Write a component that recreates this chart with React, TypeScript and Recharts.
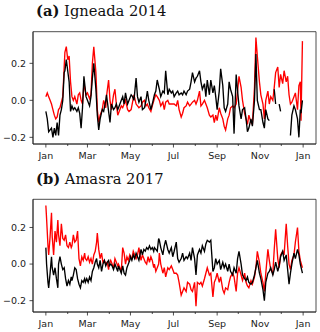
import React from "react";
import { LineChart, Line, XAxis, YAxis, ReferenceArea } from "recharts";

// panel (a) Igneada 2014 - day of year, red and black series
const daysA = [
  0, 2, 4, 6, 8, 10, 12, 14, 16, 18,
  20, 22, 24, 26, 27, 29, 31, 33, 35, 37,
  39, 41, 44, 46, 48, 50, 52, 54, 57, 59,
  62, 64, 66, 68, 71, 73, 75, 77, 80, 82,
  85, 86, 89, 91, 93, 96, 98, 100, 102, 104,
  107, 109, 111, 113, 116, 118, 121, 123, 125, 128,
  130, 132, 135, 137, 140, 142, 144, 146, 149, 151,
  154, 156, 158, 161, 163, 166, 168, 170, 173, 175,
  178, 180, 182, 185, 187, 189, 192, 194, 196, 199,
  201, 204, 206, 208, 211, 213, 215, 218, 220, 222,
  225, 227, 229, 232, 234, 237, 239, 241, 243, 246,
  248, 251, 253, 255, 258, 260, 262, 265, 267, 270,
  272, 274, 277, 279, 282, 284, 286, 288, 291, 293,
  296, 298, 300, 303, 305, 308, 310, 312, 315, 317,
  319, 322, 324, 326, 329, 331, 333, 336, 338, 341,
  343, 345, 347, 349, 352, 354, 357, 359, 361, 362,
  364,
];
const redA = [
  0.02, 0.04, 0.02, 0.0, -0.02, -0.05, -0.08, -0.1, -0.09, -0.05,
  -0.04, -0.01, 0.02, 0.18, 0.26, 0.29, 0.22, 0.24, 0.1, 0.02,
  0.0, 0.02, -0.02, 0.03, 0.04, 0.0, -0.02, 0.09, 0.03, 0.04,
  0.01, 0.03, 0.2, 0.29, 0.15, -0.05, -0.12, -0.08, -0.05, 0.0,
  -0.04, 0.02, 0.11, 0.0, -0.05, 0.03, 0.06, -0.02, -0.08, -0.06,
  -0.03, -0.04, -0.02, 0.0, -0.05, -0.06, -0.05, -0.01, 0.03, -0.02,
  -0.03, -0.04, -0.03, -0.01, 0.0, -0.03, -0.02, -0.04, -0.06, -0.03,
  0.01, 0.03, 0.02, 0.0, -0.03, -0.01, -0.05, -0.01, 0.0, -0.02,
  -0.02, -0.02, -0.02, -0.03, 0.0, -0.05, -0.09, -0.07, -0.04, -0.03,
  -0.01, -0.03, -0.02, -0.01, 0.0, -0.02, 0.0, 0.05, -0.03, -0.02,
  0.0, -0.02, -0.04, -0.08, -0.09, -0.08, -0.12, -0.08, -0.11, -0.04,
  -0.07, -0.1, -0.14, -0.16, -0.1, -0.08, -0.04, -0.03, -0.04, -0.02,
  0.05, 0.13, 0.07, 0.0, -0.07, -0.1, -0.13, -0.08, -0.12, -0.13,
  0.07, 0.34, 0.24, 0.1, 0.03, -0.02, -0.1, 0.0, 0.05, -0.02,
  0.02, 0.0, 0.07, 0.15, 0.18, 0.07, 0.14, 0.09, 0.16, 0.1,
  0.13, 0.03, -0.02, -0.01, 0.02, 0.04, -0.05, 0.08, 0.1, -0.11,
  0.32,
];
const blackA = [
  -0.06, -0.1, -0.17, -0.16, -0.15, -0.2, -0.15, -0.19, -0.12, -0.19,
  -0.08, -0.05, 0.0, 0.15, 0.16, 0.22, 0.16, 0.1, -0.06, -0.03,
  -0.05, -0.04, -0.06, -0.04, -0.07, -0.15, -0.04, 0.13, 0.02, 0.0,
  -0.03, 0.02, 0.12, 0.2, 0.06, -0.08, -0.16, -0.1, -0.05, -0.06,
  0.0, 0.03, -0.06, -0.12, -0.02, -0.05, -0.04, -0.02, -0.05, -0.03,
  0.0, 0.02, -0.02, 0.04, -0.02, 0.0, 0.03, 0.02, 0.0, 0.12,
  0.02, -0.01, 0.02, -0.05, -0.04, 0.0, 0.05, 0.0, -0.05, -0.02,
  0.03, 0.05, 0.11, 0.06, 0.02, 0.05, 0.04, 0.16, 0.03, 0.06,
  0.04, 0.05, 0.02, 0.04, 0.05, 0.03, 0.04, 0.03, 0.05, 0.03,
  0.05, 0.06, 0.1, 0.15, 0.1, 0.12, 0.13, 0.16, 0.1, 0.06,
  0.09, 0.02, 0.11, 0.03, 0.11, 0.04, 0.08, 0.02, -0.05, 0.05,
  0.17, 0.08, -0.04, -0.06, -0.02, 0.1, 0.06, 0.02, -0.18, 0.14,
  0.05, -0.03, -0.1, -0.05, -0.04, -0.1, -0.17, -0.15, -0.1, -0.14,
  0.0, 0.25, 0.0, -0.05, -0.05, -0.12, -0.15, -0.05, -0.1, -0.11,
  null, null, 0.06, -0.02, null, -0.02, -0.06, null, null, null,
  null, null, -0.19, -0.08, -0.03, -0.05, -0.1, -0.2, -0.05, -0.07,
  0.0,
];

// panel (b) Amasra 2017
const daysB = [
  0, 1, 3, 4, 6, 8, 9, 11, 13, 15,
  17, 18, 20, 22, 24, 26, 28, 30, 32, 34,
  36, 37, 39, 41, 43, 45, 47, 49, 51, 53,
  55, 56, 58, 60, 62, 64, 66, 68, 70, 72,
  73, 75, 77, 79, 81, 83, 85, 87, 89, 90,
  92, 94, 96, 98, 100, 102, 103, 105, 107, 109,
  111, 113, 115, 117, 119, 120, 122, 124, 126, 128,
  130, 132, 134, 135, 137, 139, 141, 143, 145, 147,
  149, 151, 153, 154, 156, 158, 160,
  161, 163, 166, 168, 170, 173, 175, 178, 180, 182,
  185, 187, 189, 192, 194, 196, 199, 201, 204, 206,
  208, 211, 213, 215, 218, 220, 222, 225, 227, 229,
  232, 234, 237, 239, 241, 243, 246, 248, 251, 253,
  255, 258, 260, 262, 265, 267, 270, 272, 274, 277,
  279, 282, 284, 286, 288, 291, 293, 296, 298, 300,
  303, 305, 308, 310, 312, 315, 317, 319, 322, 324,
  326, 329, 331, 333, 336, 338, 341, 343, 345, 347,
  349, 352, 354, 357, 359, 361, 364,
];
const redB = [
  0.32, 0.25, 0.1, 0.05, 0.15, 0.28, 0.15, 0.05, 0.18, 0.12,
  0.24, 0.16, 0.1, 0.22, 0.14, 0.13, 0.16, 0.1, 0.09, 0.12,
  0.09, 0.1, 0.16, 0.12, 0.13, 0.18, 0.03, -0.01, 0.04, 0.02,
  0.06, 0.03, 0.02, 0.04, 0.01, 0.03, 0.0, 0.05, 0.07, 0.12,
  0.17, 0.08, 0.03, 0.06, 0.01, 0.02, 0.0, 0.01, -0.03, 0.0,
  0.02, 0.0, -0.02, 0.03, 0.01, -0.01, 0.0, -0.02, -0.04, 0.09,
  0.06, 0.0, 0.04, 0.02, 0.05, 0.04, 0.03, 0.07, 0.05, 0.03,
  0.05, 0.09, 0.04, 0.02, 0.05, 0.03, 0.01, 0.0, 0.04, 0.01,
  0.04, 0.02, -0.02, 0.0, -0.04, -0.02, 0.0,
  0.06, 0.0, -0.05, -0.02, -0.07, -0.02, -0.03, -0.01, -0.03, -0.05,
  -0.05, -0.06, -0.1, -0.17, -0.15, -0.13, -0.15, -0.1, -0.11, -0.14,
  -0.15, -0.1, -0.23, -0.1, -0.11, -0.1, -0.12, -0.08, -0.05, -0.02,
  -0.06, -0.05, -0.18, -0.1, -0.08, -0.05, -0.1, -0.07, -0.14, -0.16,
  -0.13, -0.14, -0.1, -0.07, -0.05, -0.07, -0.15, -0.05, -0.02, -0.06,
  -0.09, -0.05, -0.1, -0.12, -0.13, -0.09, -0.11, -0.07, -0.02, 0.07,
  0.01, -0.05, -0.1, -0.15, -0.05, 0.08, 0.02, -0.03, -0.05, 0.08,
  0.19, 0.03, -0.02, 0.05, 0.07, 0.05, 0.22, 0.1, 0.0, -0.03,
  0.02, 0.05, 0.12, 0.2, 0.07, 0.02, -0.02,
];
const blackB = [
  0.09, 0.0, -0.1, -0.13, -0.05, 0.04, -0.02, -0.06, -0.02, -0.08,
  -0.13, 0.0, 0.04, 0.0, -0.03, -0.02, -0.08, -0.12, -0.09, -0.11,
  -0.07, -0.09, -0.06, -0.02, -0.03, -0.08, -0.11, -0.13, -0.09, -0.1,
  -0.08, -0.1, -0.08, -0.1, -0.07, -0.09, -0.04, -0.02, 0.01, 0.03,
  0.0, -0.02, 0.02, -0.04, 0.0, 0.02, -0.01, 0.01, 0.02, -0.01,
  0.0, -0.01, -0.03, 0.0, -0.02, -0.04, -0.01, -0.03, -0.05, -0.01,
  -0.05, -0.06, -0.02, 0.0, 0.02, 0.04, 0.02, 0.05, 0.03, 0.06,
  0.04, 0.02, 0.06, 0.08, 0.05, 0.08, 0.07, 0.09, 0.08, 0.1,
  0.08, 0.09, 0.07, 0.09, 0.08, 0.07, 0.14,
  0.13, 0.09, 0.05, 0.1, 0.13, 0.08, 0.06, 0.09, 0.04, 0.07,
  0.12, 0.03, 0.01, 0.03, 0.06, 0.02, 0.04, 0.03, 0.06, 0.02,
  0.09, 0.03, -0.06, 0.05, 0.08, 0.06, 0.1, 0.07, 0.11, 0.13,
  0.12, 0.13, -0.04, -0.02, 0.03, 0.0, 0.02, -0.03, 0.01, -0.02,
  0.0, -0.04, 0.0, -0.04, -0.06, -0.02, -0.05, 0.03, 0.07, 0.0,
  -0.06, -0.08, -0.09, -0.07, -0.1, -0.11, -0.1, -0.06, -0.02, 0.02,
  -0.05, -0.08, -0.14, -0.2, -0.1, -0.05, -0.04, -0.02, -0.06, -0.03,
  0.01, -0.04, -0.01, 0.04, 0.07, 0.02, 0.05, -0.03, -0.11, -0.05,
  0.0, 0.06, 0.03, 0.08, 0.05, 0.0, -0.05,
];

const monthTicks = [0, 31, 59, 90, 120, 151, 181, 212, 243, 273, 304, 334, 365];
const monthLabels = ["Jan", "", "Mar", "", "May", "", "Jul", "", "Sep", "", "Nov", "", "Jan"];
const yTicks = [-0.2, 0, 0.2];

const X_DOMAIN: [number, number] = [-18.25, 383.25];
const INK = "#222";
const TICK_FONT = { fontFamily: "DejaVu Sans", fontSize: 9.5, fill: INK };

const MonthTick = ({ x, y, payload }: any) => {
  const idx = monthTicks.indexOf(payload.value);
  const label = monthLabels[idx] || "";
  const len = label ? 3.5 : 2;
  return (
    <g>
      <line x1={x} x2={x} y1={y} y2={y + len} stroke={INK} strokeWidth={0.8} />
      {label && (
        <text x={x} y={y + 15} textAnchor="middle" {...TICK_FONT}>
          {label}
        </text>
      )}
    </g>
  );
};

const fmtY = (v: number) => (v < 0 ? "\u2212" : "") + Math.abs(v).toFixed(1);

interface PanelProps {
  days: number[];
  red: (number | null)[];
  black: (number | null)[];
  yDomain: [number, number];
  height: number;
  top: number;
  xAxisHeight: number;
}

const Panel = ({ days, red, black, yDomain, height, top, xAxisHeight }: PanelProps) => {
  const data = days.map((d, i) => ({ day: d, red: red[i], black: black[i] }));
  return (
    <LineChart
      width={320}
      height={height}
      data={data}
      margin={{ top, right: 4, left: 0, bottom: 0 }}
    >
      <XAxis
        dataKey="day"
        type="number"
        domain={X_DOMAIN}
        allowDataOverflow
        ticks={monthTicks}
        interval={0}
        tickSize={0}
        tickMargin={0}
        tickLine={false}
        tick={<MonthTick />}
        height={xAxisHeight}
        axisLine={{ stroke: INK, strokeWidth: 0.8 }}
      />
      <YAxis
        type="number"
        domain={yDomain}
        allowDataOverflow
        ticks={yTicks}
        tickFormatter={fmtY}
        width={33}
        tickSize={3.5}
        tickMargin={3.5}
        tick={TICK_FONT}
        tickLine={{ stroke: INK, strokeWidth: 0.8 }}
        axisLine={{ stroke: INK, strokeWidth: 0.8 }}
      />
      <ReferenceArea
        x1={X_DOMAIN[0]}
        x2={X_DOMAIN[1]}
        y1={yDomain[0]}
        y2={yDomain[1]}
        fill="none"
        stroke={INK}
        strokeWidth={0.8}
      />
      <Line
        type="linear"
        dataKey="red"
        stroke="#ff0000"
        strokeWidth={1.35}
        dot={false}
        isAnimationActive={false}
      />
      <Line
        type="linear"
        dataKey="black"
        stroke="#000000"
        strokeWidth={1.35}
        dot={false}
        isAnimationActive={false}
      />
    </LineChart>
  );
};

const titleStyle: React.CSSProperties = {
  position: "absolute",
  left: 36,
  fontFamily: "DejaVu Serif",
  fontSize: 14.7,
  lineHeight: "16px",
  color: "#111",
  whiteSpace: "nowrap",
};

export default function App() {
  return (
    <div
      style={{
        position: "absolute",
        left: 0,
        top: 0,
        width: 320,
        height: 332,
        background: "#fff",
        overflow: "hidden",
      }}
    >
      <div style={{ ...titleStyle, top: 3 }}>
        <b>(a)</b> Igneada 2014
      </div>
      <div style={{ position: "absolute", left: 0, top: 0 }}>
        <Panel
          days={daysA}
          red={redA}
          black={blackA}
          yDomain={[-0.236, 0.371]}
          height={170}
          top={31.7}
          xAxisHeight={26}
        />
      </div>
      <div style={{ ...titleStyle, top: 171 }}>
        <b>(b)</b> Amasra 2017
      </div>
      <div style={{ position: "absolute", left: 0, top: 168 }}>
        <Panel
          days={daysB}
          red={redB}
          black={blackB}
          yDomain={[-0.262, 0.354]}
          height={164}
          top={31.3}
          xAxisHeight={20}
        />
      </div>
    </div>
  );
}
